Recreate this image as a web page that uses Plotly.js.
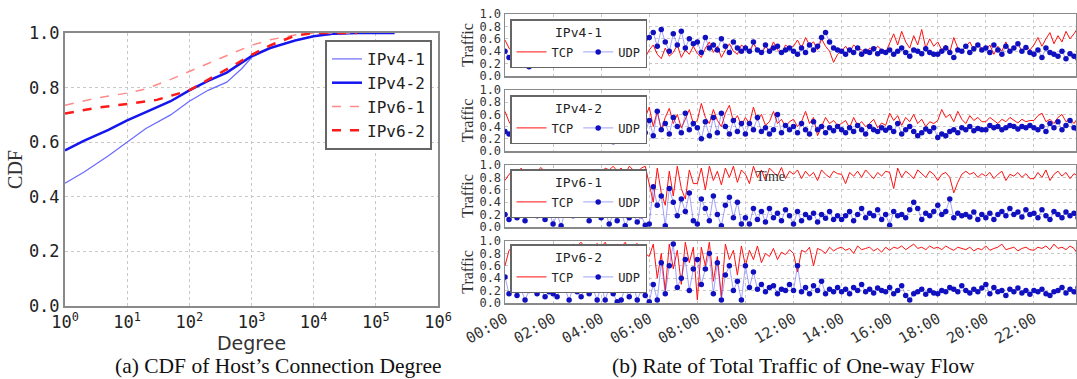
<!DOCTYPE html>
<html><head><meta charset="utf-8">
<script src="https://cdn.plot.ly/plotly-3.0.1.min.js"></script>
<style>html,body{margin:0;padding:0;background:#fff}#c{width:1077px;height:379px}</style>
</head><body><div id="c"></div>
<script>
// ---- CDF data (Degree, CDF) ----
const v41Deg = [1,2,5,10,20,50,100,200,400,700,1000,2000,5000,10000,30000,100000,200000];
const v41Cdf = [0.45,0.49,0.55,0.60,0.65,0.70,0.75,0.79,0.82,0.87,0.91,0.945,0.975,0.99,0.998,1.0,1.0];
const v42Deg = [1,2,5,10,20,50,100,200,400,1000,2000,5000,10000,20000,50000,200000];
const v42Cdf = [0.57,0.605,0.645,0.68,0.71,0.75,0.79,0.825,0.855,0.915,0.945,0.972,0.988,0.997,1.0,1.0];
const v61Deg = [1,3,10,20,50,100,300,1000,2000,5000,10000,50000];
const v61Cdf = [0.735,0.76,0.78,0.795,0.83,0.86,0.905,0.955,0.975,0.993,1.0,1.0];
const v62Deg = [1,3,10,30,100,300,600,1000,2000,5000,10000,50000];
const v62Cdf = [0.705,0.725,0.74,0.755,0.79,0.85,0.89,0.92,0.955,0.99,1.0,1.0];
const cdfTickVals = [1,10,100,1000,10000,100000,1000000];
const cdfTickText = ['10<sup>0</sup>','10<sup>1</sup>','10<sup>2</sup>','10<sup>3</sup>','10<sup>4</sup>','10<sup>5</sup>','10<sup>6</sup>'];
const fracTickVals = [0,0.2,0.4,0.6,0.8,1.0];
const fracTickText = ['0.0','0.2','0.4','0.6','0.8','1.0'];

// ---- Traffic data, one value every 10 minutes (12 per 2-hour row) ----
const timeTickVals = [0,2,4,6,8,10,12,14,16,18,20,22];
const timeTickText = ['00:00','02:00','04:00','06:00','08:00','10:00','12:00','14:00','16:00','18:00','20:00','22:00'];
const tcpV41 = [
 0.58,0.45,0.38,0.35,0.40,0.32,0.36,0.30,0.34,0.28,0.35,0.30,
 0.32,0.25,0.36,0.22,0.30,0.34,0.26,0.33,0.20,0.30,0.35,0.25,
 0.22,0.32,0.18,0.34,0.25,0.30,0.15,0.28,0.20,0.35,0.18,0.30,
 0.42,0.50,0.35,0.28,0.45,0.32,0.38,0.50,0.30,0.42,0.35,0.48,
 0.36,0.30,0.45,0.55,0.38,0.48,0.30,0.42,0.52,0.40,0.35,0.50,
 0.45,0.38,0.52,0.42,0.35,0.48,0.40,0.55,0.42,0.36,0.50,0.45,
 0.48,0.58,0.45,0.62,0.50,0.55,0.42,0.60,0.48,0.40,0.22,0.35,
 0.40,0.48,0.38,0.50,0.45,0.42,0.36,0.45,0.40,0.48,0.42,0.38,
 0.52,0.68,0.50,0.72,0.55,0.45,0.65,0.50,0.75,0.45,0.60,0.48,
 0.55,0.42,0.50,0.38,0.62,0.45,0.40,0.48,0.55,0.42,0.50,0.45,
 0.42,0.50,0.35,0.48,0.40,0.55,0.38,0.45,0.52,0.40,0.48,0.42,
 0.50,0.62,0.48,0.60,0.70,0.52,0.65,0.55,0.72,0.60,0.68,0.78];
const udpV41 = [
 0.40,0.30,0.26,0.32,0.22,0.28,0.15,0.20,0.28,0.25,0.32,0.22,
 0.35,0.28,0.32,0.30,0.38,0.25,0.33,0.30,0.28,0.35,0.30,0.32,
 0.35,0.28,0.32,0.40,0.30,0.35,0.42,0.38,0.45,0.55,0.50,0.60,
 0.62,0.70,0.48,0.75,0.55,0.40,0.68,0.50,0.72,0.45,0.60,0.52,
 0.55,0.38,0.62,0.45,0.50,0.42,0.60,0.48,0.38,0.55,0.45,0.40,
 0.45,0.40,0.55,0.42,0.38,0.50,0.40,0.45,0.48,0.38,0.42,0.45,
 0.40,0.35,0.45,0.38,0.50,0.42,0.48,0.62,0.70,0.55,0.45,0.42,
 0.40,0.35,0.42,0.38,0.45,0.35,0.40,0.38,0.44,0.36,0.40,0.38,
 0.42,0.35,0.40,0.45,0.38,0.32,0.42,0.40,0.36,0.44,0.38,0.35,
 0.35,0.40,0.45,0.38,0.30,0.42,0.40,0.48,0.38,0.44,0.50,0.42,
 0.45,0.38,0.50,0.42,0.35,0.48,0.40,0.45,0.52,0.40,0.46,0.38,
 0.35,0.42,0.30,0.45,0.38,0.35,0.32,0.40,0.28,0.36,0.32,0.28];
const tcpV42 = [
 0.65,0.48,0.38,0.30,0.36,0.32,0.28,0.35,0.30,0.38,0.32,0.28,
 0.30,0.36,0.28,0.33,0.30,0.38,0.32,0.28,0.35,0.30,0.34,0.28,
 0.35,0.30,0.38,0.25,0.32,0.28,0.15,0.30,0.22,0.48,0.35,0.55,
 0.72,0.40,0.65,0.35,0.55,0.70,0.45,0.60,0.38,0.52,0.68,0.45,
 0.50,0.78,0.55,0.45,0.68,0.50,0.40,0.62,0.75,0.48,0.58,0.42,
 0.55,0.45,0.72,0.50,0.60,0.42,0.48,0.65,0.45,0.52,0.40,0.48,
 0.52,0.40,0.48,0.65,0.45,0.55,0.25,0.40,0.55,0.45,0.50,0.42,
 0.45,0.50,0.38,0.55,0.42,0.48,0.40,0.45,0.52,0.38,0.46,0.42,
 0.62,0.50,0.58,0.42,0.55,0.48,0.60,0.45,0.52,0.40,0.48,0.45,
 0.50,0.68,0.55,0.60,0.48,0.65,0.52,0.45,0.58,0.50,0.55,0.48,
 0.48,0.55,0.50,0.45,0.52,0.48,0.55,0.50,0.46,0.52,0.48,0.50,
 0.50,0.58,0.62,0.48,0.52,0.45,0.55,0.60,0.48,0.52,0.45,0.55];
const udpV42 = [
 0.32,0.28,0.35,0.22,0.30,0.25,0.32,0.20,0.28,0.35,0.30,0.25,
 0.35,0.30,0.28,0.32,0.30,0.35,0.28,0.33,0.30,0.27,0.34,0.30,
 0.30,0.22,0.35,0.15,0.28,0.25,0.40,0.30,0.22,0.35,0.28,0.30,
 0.50,0.25,0.65,0.35,0.45,0.28,0.55,0.40,0.30,0.62,0.35,0.45,
 0.38,0.20,0.48,0.25,0.55,0.30,0.62,0.40,0.28,0.50,0.32,0.45,
 0.28,0.45,0.35,0.55,0.32,0.38,0.28,0.35,0.60,0.30,0.42,0.35,
 0.40,0.30,0.45,0.35,0.28,0.48,0.35,0.40,0.30,0.38,0.33,0.40,
 0.35,0.30,0.38,0.32,0.42,0.35,0.28,0.40,0.35,0.32,0.38,0.34,
 0.38,0.32,0.45,0.28,0.35,0.40,0.32,0.25,0.30,0.36,0.32,0.38,
 0.22,0.28,0.25,0.32,0.35,0.30,0.38,0.35,0.40,0.33,0.37,0.35,
 0.35,0.42,0.38,0.40,0.35,0.38,0.42,0.40,0.36,0.40,0.38,0.42,
 0.38,0.35,0.40,0.32,0.45,0.38,0.48,0.35,0.42,0.50,0.38,0.35];
const tcpV61 = [
 0.75,0.85,0.90,0.80,0.95,0.88,0.92,0.85,0.90,0.96,0.88,0.92,
 0.90,0.85,0.80,0.88,0.92,0.85,0.80,0.75,0.60,0.45,0.30,0.55,
 0.85,0.95,0.92,0.98,0.90,0.95,0.85,0.98,0.92,0.88,0.95,0.98,
 0.70,0.40,0.95,0.55,0.35,0.90,0.50,0.98,0.62,0.45,0.92,0.70,
 0.70,0.95,0.60,0.98,0.75,0.90,0.68,0.95,0.80,0.98,0.72,0.92,
 0.85,0.70,0.98,0.80,0.92,0.75,0.95,0.88,0.82,0.96,0.78,0.90,
 0.85,0.92,0.78,0.90,0.82,0.88,0.75,0.92,0.85,0.80,0.90,0.86,
 0.85,0.70,0.88,0.82,0.90,0.80,0.92,0.85,0.78,0.88,0.82,0.90,
 0.88,0.62,0.95,0.80,0.90,0.85,0.78,0.92,0.86,0.80,0.90,0.85,
 0.75,0.85,0.88,0.80,0.55,0.72,0.85,0.90,0.85,0.88,0.80,0.86,
 0.82,0.88,0.78,0.85,0.90,0.75,0.85,0.82,0.88,0.80,0.86,0.78,
 0.78,0.88,0.80,0.92,0.75,0.85,0.90,0.82,0.88,0.78,0.86,0.82];
const udpV61 = [
 0.20,0.12,0.25,0.15,0.22,0.10,0.25,0.28,0.18,0.22,0.12,0.25,
 0.05,0.20,0.02,0.25,0.30,0.18,0.35,0.22,0.28,0.10,0.32,0.20,
 0.15,0.25,0.05,0.20,0.10,0.28,0.02,0.15,0.22,0.08,0.18,0.03,
 0.05,0.65,0.35,0.50,0.02,0.62,0.40,0.18,0.45,0.25,0.55,0.10,
 0.05,0.45,0.30,0.10,0.50,0.20,0.02,0.35,0.48,0.15,0.40,0.05,
 0.15,0.05,0.30,0.12,0.25,0.08,0.30,0.15,0.22,0.10,0.28,0.18,
 0.05,0.25,0.10,0.20,0.15,0.22,0.08,0.20,0.14,0.25,0.12,0.18,
 0.12,0.18,0.25,0.10,0.20,0.30,0.15,0.22,0.18,0.28,0.12,0.20,
 0.03,0.25,0.18,0.20,0.15,0.28,0.40,0.30,0.12,0.22,0.18,0.25,
 0.35,0.20,0.25,0.45,0.15,0.22,0.18,0.20,0.16,0.24,0.12,0.20,
 0.15,0.22,0.12,0.20,0.25,0.18,0.30,0.20,0.24,0.16,0.28,0.20,
 0.22,0.15,0.28,0.18,0.12,0.25,0.20,0.15,0.24,0.18,0.22,0.15];
const tcpV62 = [
 0.60,0.85,0.90,0.88,0.92,0.85,0.90,0.88,0.94,0.86,0.90,0.92,
 0.92,0.88,0.95,0.90,0.85,0.95,0.92,0.98,0.88,0.94,0.90,0.96,
 0.90,0.98,0.85,0.30,0.95,0.90,0.98,0.85,0.92,0.96,0.88,0.80,
 0.75,0.95,0.40,0.80,0.20,0.95,0.55,0.85,0.30,0.98,0.65,0.90,
 0.05,0.90,0.60,0.98,0.35,0.75,0.10,0.95,0.70,0.85,0.45,0.92,
 0.60,0.85,0.70,0.92,0.65,0.80,0.75,0.88,0.70,0.82,0.78,0.86,
 0.80,0.50,0.85,0.82,0.90,0.60,0.88,0.85,0.80,0.90,0.84,0.88,
 0.90,0.85,0.88,0.80,0.92,0.86,0.88,0.90,0.84,0.88,0.82,0.90,
 0.85,0.90,0.88,0.92,0.86,0.90,0.95,0.88,0.90,0.86,0.92,0.88,
 0.90,0.86,0.92,0.88,0.85,0.90,0.88,0.86,0.90,0.84,0.88,0.86,
 0.92,0.85,0.88,0.90,0.95,0.86,0.88,0.90,0.84,0.88,0.90,0.86,
 0.85,0.90,0.88,0.92,0.86,0.95,0.88,0.90,0.86,0.92,0.88,0.78];
const udpV62 = [
 0.42,0.15,0.25,0.12,0.22,0.05,0.20,0.28,0.15,0.22,0.10,0.18,
 0.15,0.10,0.30,0.22,0.05,0.25,0.18,0.10,0.28,0.15,0.22,0.05,
 0.28,0.05,0.25,0.15,0.02,0.05,0.25,0.10,0.30,0.05,0.20,0.12,
 0.02,0.30,0.05,0.65,0.15,0.60,0.95,0.25,0.40,0.70,0.20,0.55,
 0.70,0.30,0.55,0.80,0.15,0.65,0.05,0.45,0.60,0.20,0.35,0.05,
 0.60,0.25,0.50,0.22,0.30,0.18,0.25,0.28,0.15,0.22,0.20,0.30,
 0.20,0.60,0.18,0.25,0.15,0.28,0.20,0.35,0.15,0.22,0.18,0.25,
 0.18,0.22,0.15,0.25,0.20,0.30,0.18,0.22,0.16,0.24,0.20,0.18,
 0.25,0.15,0.20,0.28,0.12,0.05,0.15,0.18,0.22,0.14,0.20,0.16,
 0.15,0.20,0.18,0.25,0.22,0.18,0.28,0.20,0.16,0.22,0.18,0.24,
 0.30,0.15,0.25,0.18,0.20,0.12,0.22,0.18,0.24,0.16,0.20,0.14,
 0.20,0.18,0.22,0.15,0.12,0.18,0.20,0.25,0.16,0.22,0.18,0.25];
const panelNames = ['IPv4-1','IPv4-2','IPv6-1','IPv6-2'];
const tcpSeries = [tcpV41,tcpV42,tcpV61,tcpV62];
const udpSeries = [udpV41,udpV42,udpV61,udpV62];
const hours = tcpV41.map((_,i)=>i/6);

const W=1077,H=379;
const px=(a,b)=>[a/W,b/W];
const py=(top,bot)=>[(H-bot)/H,(H-top)/H];
const mono='DejaVu Sans Mono', serif='Liberation Serif';

const traces=[
 {x:v41Deg,y:v41Cdf,name:'IPv4-1',mode:'lines',line:{color:'#6a6aff',width:1.2},xaxis:'x',yaxis:'y',legend:'legend'},
 {x:v42Deg,y:v42Cdf,name:'IPv4-2',mode:'lines',line:{color:'#1515f0',width:2.5},xaxis:'x',yaxis:'y',legend:'legend'},
 {x:v61Deg,y:v61Cdf,name:'IPv6-1',mode:'lines',line:{color:'#ff8a8a',width:1.5,dash:'dash'},xaxis:'x',yaxis:'y',legend:'legend'},
 {x:v62Deg,y:v62Cdf,name:'IPv6-2',mode:'lines',line:{color:'#ff1a1a',width:2.5,dash:'dash'},xaxis:'x',yaxis:'y',legend:'legend'}
];
const layout={width:W,height:H,margin:{l:0,r:0,t:0,b:0},paper_bgcolor:'#fff',plot_bgcolor:'#fff',
 showlegend:true,
 xaxis:{type:'log',domain:px(65,438),range:[0,6],tickvals:cdfTickVals,ticktext:cdfTickText,anchor:'y',
  tickfont:{family:mono,size:17,color:'#222'},showgrid:true,gridcolor:'#c8c8c8',griddash:'dot',
  showline:true,mirror:true,linecolor:'#8a8a8a',linewidth:2,zeroline:false,ticks:'',
  title:{text:'Degree',font:{family:'DejaVu Sans',size:19,color:'#333'},standoff:2}},
 yaxis:{domain:py(33,306),range:[0,1],tickvals:fracTickVals,ticktext:fracTickText,anchor:'x',
  tickfont:{family:mono,size:17,color:'#222'},showgrid:true,gridcolor:'#c8c8c8',griddash:'dot',
  showline:true,mirror:true,linecolor:'#8a8a8a',linewidth:2,zeroline:false,ticks:'',
  title:{text:'CDF',font:{family:serif,size:20,color:'#333'},standoff:1}},
 legend:{x:432/W,xanchor:'right',y:(H-40)/H,yanchor:'top',bgcolor:'#fff',bordercolor:'#666',borderwidth:2,
  font:{family:mono,size:16,color:'#222'},tracegroupgap:0,itemwidth:30},
 annotations:[
  {text:'(a) CDF of Host\u2019s Connection Degree',x:278/W,xanchor:'center',y:(H-366)/H,yanchor:'middle',xref:'paper',yref:'paper',showarrow:false,font:{family:serif,size:21.5,color:'#111'}},
  {text:'(b) Rate of Total Traffic of One-way Flow',x:793/W,xanchor:'center',y:(H-366)/H,yanchor:'middle',xref:'paper',yref:'paper',showarrow:false,font:{family:serif,size:21.5,color:'#111'}},
  {text:'Time',x:770/W,xanchor:'center',y:(H-176)/H,yanchor:'middle',xref:'paper',yref:'paper',showarrow:false,font:{family:serif,size:14,color:'#333'}}
 ]
};
const tops=[[14,76],[90,151],[165,227],[241,303]];
const legTop=[19,95,169,244];
for(let k=0;k<4;k++){
 const ax=k+2, lg='legend'+(k+2);
 traces.push({x:hours,y:tcpSeries[k],name:'TCP',mode:'lines',line:{color:'#ff1010',width:1},xaxis:'x'+ax,yaxis:'y'+ax,legend:lg});
 traces.push({x:hours,y:udpSeries[k],name:'UDP',mode:'lines+markers',line:{color:'rgba(70,70,255,0.5)',width:1},
  marker:{color:'#1010c0',size:5.5},xaxis:'x'+ax,yaxis:'y'+ax,legend:lg});
 layout['xaxis'+ax]={domain:px(505,1076),range:[0,23.75],anchor:'y'+ax,tickvals:timeTickVals,ticktext:timeTickText,
  showticklabels:k===3,tickangle:-30,tickfont:{family:mono,size:15,color:'#333'},
  showgrid:true,gridcolor:'#c8c8c8',griddash:'dot',showline:true,mirror:true,linecolor:'#8a8a8a',linewidth:1.5,zeroline:false,ticks:''};
 layout['yaxis'+ax]={domain:py(tops[k][0],tops[k][1]),range:[0,1],anchor:'x'+ax,tickvals:fracTickVals,ticktext:fracTickText,
  tickfont:{family:mono,size:12,color:'#333'},showgrid:true,gridcolor:'#c8c8c8',griddash:'dot',
  showline:true,mirror:true,linecolor:'#8a8a8a',linewidth:1.5,zeroline:false,ticks:'',
  title:{text:'Traffic',font:{family:serif,size:16,color:'#333'},standoff:2}};
 layout[lg]={x:510/W,xanchor:'left',y:(H-legTop[k])/H,yanchor:'top',orientation:'h',bgcolor:'#fff',bordercolor:'#666',borderwidth:1.5,
  font:{family:mono,size:12,color:'#222'},itemwidth:30,
  title:{text:panelNames[k],side:'top center',font:{family:mono,size:13,color:'#222'}}};
}
Plotly.newPlot('c',traces,layout,{displayModeBar:false,staticPlot:true});
</script></body></html>
